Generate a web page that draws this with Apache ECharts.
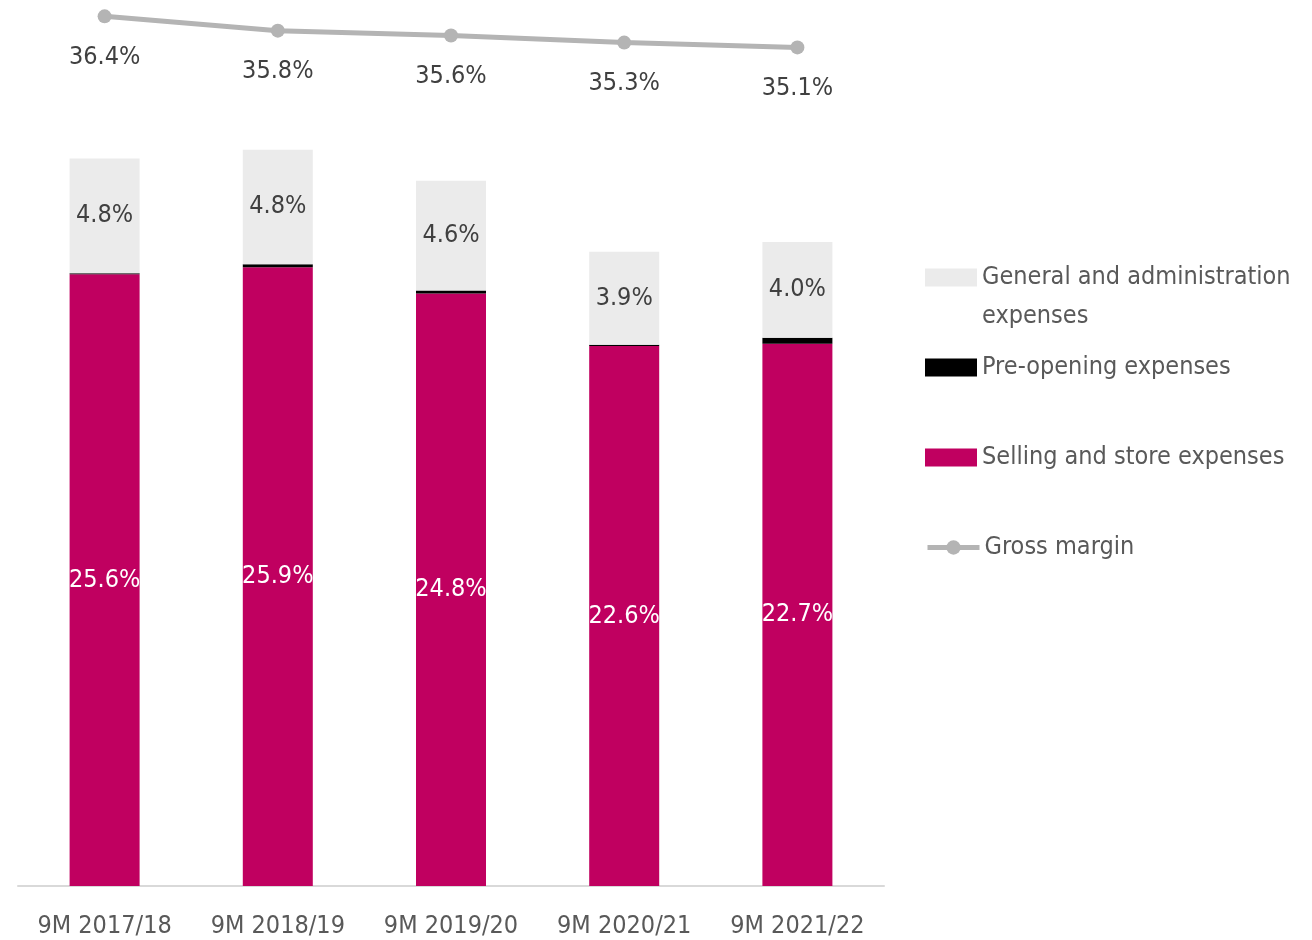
<!DOCTYPE html>
<html>
<head>
<meta charset="utf-8">
<script src="https://cdn.jsdelivr.net/npm/echarts@6/dist/echarts.min.js"></script>
<style>html,body{margin:0;padding:0;background:#fff}#c{width:1312px;height:940px}</style>
</head>
<body>
<div id="c"></div>
<script>
const categories = ['9M 2017/18', '9M 2018/19', '9M 2019/20', '9M 2020/21', '9M 2021/22'];
const sellingStore = [25.6, 25.9, 24.8, 22.6, 22.7];
const preOpening = [0.05, 0.12, 0.12, 0.05, 0.25];
const generalAdmin = [4.8, 4.8, 4.6, 3.9, 4.0];
const grossMargin = [36.4, 35.8, 35.6, 35.3, 35.1];

const FONT = "'Liberation Sans Narrow', 'DejaVu Sans Condensed', sans-serif";
const TXT = '#595959';
const FS = 25;
const chart = echarts.init(document.getElementById('c'), null, {renderer: 'canvas'});
const pct = p => p.value.toFixed(1) + '%';
const legendBase = {orient: 'vertical', left: 925, padding: 0, itemWidth: 52, itemHeight: 18, icon: 'rect',
  textStyle: {fontFamily: FONT, fontSize: 25, color: TXT, lineHeight: 39}, selectedMode: false};
chart.setOption({
  animation: false,
  textStyle: {fontFamily: FONT},
  grid: {left: 18, right: 428, top: 2, bottom: 54},
  legend: [
    Object.assign({}, legendBase, {top: 219, data: ['General and administration expenses'],
      formatter: () => ' \nGeneral and administration\nexpenses'}),
    Object.assign({}, legendBase, {top: 348, data: ['Pre-opening expenses']}),
    Object.assign({}, legendBase, {top: 438, data: ['Selling and store expenses']}),
    Object.assign({}, legendBase, {top: 528, icon: null,
      data: [{name: 'Gross margin', lineStyle: {width: 5, color: '#B4B4B4'}, itemStyle: {color: '#B4B4B4'}}]})
  ],
  xAxis: {type: 'category', data: categories,
    axisLine: {lineStyle: {color: '#d9d9d9', width: 2}}, axisTick: {show: false},
    axisLabel: {fontFamily: FONT, fontSize: FS, color: TXT, margin: 28, interval: 0}},
  yAxis: {type: 'value', min: 0, max: 37, show: false, splitLine: {show: false}},
  series: [
    {name: 'Selling and store expenses', type: 'bar', stack: 'e', barWidth: 70, data: sellingStore,
      itemStyle: {color: '#C00060'},
      label: {show: true, position: 'inside', color: '#fff', fontSize: FS, fontFamily: FONT, formatter: pct}},
    {name: 'Pre-opening expenses', type: 'bar', stack: 'e', barWidth: 70, data: preOpening,
      itemStyle: {color: '#000'}},
    {name: 'General and administration expenses', type: 'bar', stack: 'e', barWidth: 70, data: generalAdmin,
      itemStyle: {color: '#EBEBEB'},
      label: {show: true, position: 'inside', color: '#404040', fontSize: FS, fontFamily: FONT, formatter: pct}},
    {name: 'Gross margin', type: 'line', data: grossMargin, symbol: 'circle', symbolSize: 14,
      lineStyle: {color: '#B4B4B4', width: 5}, itemStyle: {color: '#B4B4B4'},
      label: {show: true, position: 'bottom', distance: 19, lineHeight: 30, color: '#404040', fontSize: FS, fontFamily: FONT, formatter: pct}}
  ]
});
</script>
</body>
</html>
